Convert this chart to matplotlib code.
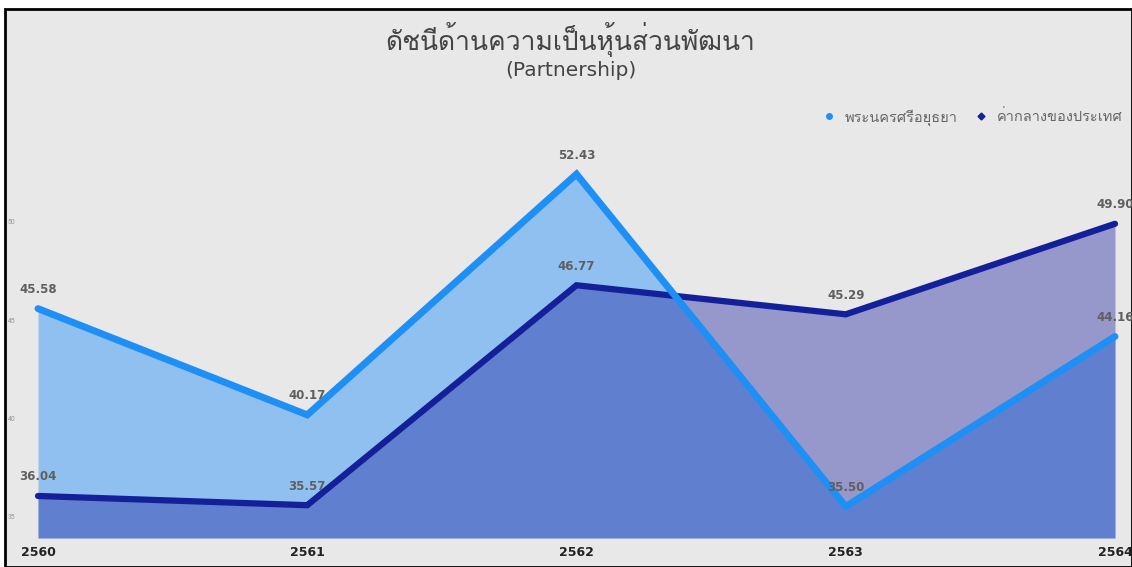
import matplotlib
matplotlib.use("Agg")
import matplotlib.pyplot as plt
from matplotlib import font_manager
from matplotlib.ft2font import FT2Font
from matplotlib.patches import Rectangle
from matplotlib.lines import Line2D


def find_thai_font():
    # look for any installed family that has Thai glyphs
    for f in font_manager.fontManager.ttflist:
        try:
            if 0x0E01 in FT2Font(f.fname).get_charmap():
                return f.name
        except Exception:
            continue
    return None


THAI_FONT = find_thai_font()
FAMILY = [THAI_FONT, "DejaVu Sans"] if THAI_FONT else ["DejaVu Sans"]
plt.rcParams["font.family"] = FAMILY

years = ["2560", "2561", "2562", "2563", "2564"]
ayutthaya = [45.58, 40.17, 52.43, 35.50, 44.16]
national = [36.04, 35.57, 46.77, 45.29, 49.90]
y_ticks = [35, 40, 45, 50]

title_th = "ดัชนีด้านความเป็นหุ้นส่วนพัฒนา"
title_en = "(Partnership)"
label_ayu = "พระนครศรีอยุธยา"
label_nat = "ค่ากลางของประเทศ"

BG = "#e8e8e8"
AYU_LINE = "#1e90f5"
AYU_FILL = "#0a84fc"
NAT_LINE = "#13209a"
NAT_FILL = "#1b1e9d"

fig = plt.figure(figsize=(11.32, 5.67), dpi=100)
fig.patch.set_facecolor("white")

# grey panel with black frame, behind everything
fig.patches.append(Rectangle((5 / 1132, 0), 1 - 5 / 1132, 1 - 9 / 567,
                             transform=fig.transFigure, facecolor=BG,
                             edgecolor="black", linewidth=2, zorder=-10))

ax = fig.add_axes([38 / 1132, 1 - 538 / 567, (1115 - 38) / 1132, (538 - 104) / 567])
ax.set_facecolor("none")
x = list(range(len(years)))
ymin = 33.9
ax.set_xlim(0, len(years) - 1)
ax.set_ylim(ymin, 56)

ax.fill_between(x, ymin, ayutthaya, color=AYU_FILL, alpha=0.4, linewidth=0, zorder=1)
ax.fill_between(x, ymin, national, color=NAT_FILL, alpha=0.4, linewidth=0, zorder=2)
ax.plot(x, national, color=NAT_LINE, linewidth=4.5, solid_joinstyle="miter",
        solid_capstyle="round", zorder=3, clip_on=False)
ax.plot(x, ayutthaya, color=AYU_LINE, linewidth=5, solid_joinstyle="miter",
        solid_capstyle="round", zorder=4, clip_on=False)

for series in (ayutthaya, national):
    for xi, v in zip(x, series):
        ax.annotate(f"{v:.2f}", (xi, v), xytext=(0, 9), textcoords="offset points",
                    ha="center", va="bottom", fontsize=8.5, fontweight="bold",
                    family="DejaVu Sans", color="#5f5f5f", zorder=5)

for s in ax.spines.values():
    s.set_visible(False)
ax.set_xticks(x)
ax.set_xticklabels(years, fontsize=9, fontweight="bold", color="#222222",
                   family="DejaVu Sans")
ax.tick_params(axis="x", length=0, pad=6)
ax.set_yticks(y_ticks)
ax.set_yticklabels([str(t) for t in y_ticks], fontsize=5, color="#999999")
ax.tick_params(axis="y", length=0, pad=16)

fig.text(0.504, 0.931, title_th, ha="center", va="center", fontsize=19, color="#444444")
fig.text(0.504, 0.876, title_en, ha="center", va="center", fontsize=14.5,
         color="#444444", family="DejaVu Sans")

handles = [
    Line2D([], [], marker="o", linestyle="none", markersize=4, color=AYU_LINE, label=label_ayu),
    Line2D([], [], marker="D", linestyle="none", markersize=3.5, color=NAT_LINE, label=label_nat),
]
fig.legend(handles=handles, loc="upper right", bbox_to_anchor=(0.997, 0.818),
           ncol=2, frameon=False, fontsize=10.5, labelcolor="#666666",
           handletextpad=0.1, columnspacing=0.6, borderaxespad=0)

fig.savefig("out.png", dpi=100, facecolor=fig.get_facecolor())
